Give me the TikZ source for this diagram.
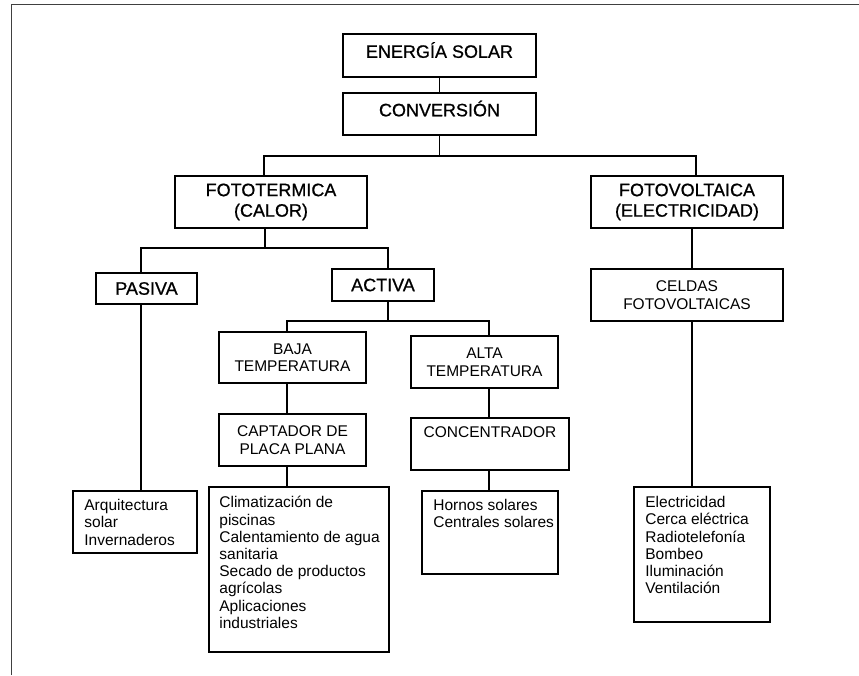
\documentclass[tikz,border=0pt]{standalone}
\usepackage{fontspec}
\setmainfont{Liberation Sans}
\newfontfamily\gruesa[FakeBold=0.8]{Liberation Sans}
\tikzset{
    caja/.style={draw, line width=1.6pt, inner sep=0pt, align=center},
    titulo/.style={caja, font=\gruesa\fontsize{18}{20.5}\selectfont},
    subtitulo/.style={caja, font=\fontsize{15.5}{17.5}\selectfont},
    lista/.style={anchor=north west, inner sep=0pt, align=left, font=\fontsize{15.5}{17.2}\selectfont},
    linea/.style={line width=1.6pt}
}
\begin{document}
\begin{tikzpicture}[x=1pt,y=-1pt]
    \useasboundingbox (0,0) rectangle (859,675);
    \draw[line width=0.8pt, black!75] (11,675) -- (11,4.7) -- (859,4.7);
    % cajas
    \node[titulo, minimum width=193, minimum height=43, text depth=11pt] (energia) at (439.5,55.5) {ENERGÍA SOLAR};
    \node[titulo, minimum width=193, minimum height=42, text depth=11pt] (conversion) at (439.5,114) {CONVERSIÓN};
    \node[titulo, minimum width=192, minimum height=52] (fototermica) at (271,202) {FOTOTERMICA\\(CALOR)};
    \node[titulo, minimum width=192, minimum height=52] (fotovoltaica) at (687,202) {FOTOVOLTAICA\\(ELECTRICIDAD)};
    \node[titulo, minimum width=101, minimum height=31] (pasiva) at (146.5,288.5) {PASIVA};
    \node[titulo, minimum width=102, minimum height=32] (activa) at (383,285) {ACTIVA};
    \node[subtitulo, minimum width=192, minimum height=52] (celdas) at (687,295) {CELDAS\\FOTOVOLTAICAS};
    \node[subtitulo, minimum width=147, minimum height=51] (baja) at (292.5,357.5) {BAJA\\TEMPERATURA};
    \node[subtitulo, minimum width=147, minimum height=52] (alta) at (484.5,362) {ALTA\\TEMPERATURA};
    \node[subtitulo, minimum width=147, minimum height=52] (captador) at (292.5,440) {CAPTADOR DE\\PLACA PLANA};
    \node[subtitulo, minimum width=158, minimum height=52, text depth=23pt] (concentrador) at (490,444) {CONCENTRADOR};
    \node[caja, minimum width=124, minimum height=62] (arquitectura) at (135,522) {};
    \node[caja, minimum width=180, minimum height=165] (climatizacion) at (299,569.5) {};
    \node[caja, minimum width=136, minimum height=83] (hornos) at (490,532.5) {};
    \node[caja, minimum width=136, minimum height=135] (electricidad) at (702,554.5) {};
    % textos de las listas
    \node[lista] (arquitectura-t) at ([shift={(12,9)}]arquitectura.north west) {Arquitectura\\solar\\Invernaderos};
    \node[lista] (climatizacion-t) at ([shift={(11,10)}]climatizacion.north west) {Climatización de\\piscinas\\Calentamiento de agua\\sanitaria\\Secado de productos\\agrícolas\\Aplicaciones\\industriales};
    \node[lista] (hornos-t) at ([shift={(12,9)}]hornos.north west) {Hornos solares\\Centrales solares};
    \node[lista] (electricidad-t) at ([shift={(12,10)}]electricidad.north west) {Electricidad\\Cerca eléctrica\\Radiotelefonía\\Bombeo\\Iluminación\\Ventilación};
    % uniones
    \coordinate (j1) at (439.5,156);
    \coordinate (j2) at (265,248);
    \coordinate (j3) at (388,321);
    \draw[linea] (energia) -- (conversion);
    \draw[linea] (conversion) -- (j1);
    \draw[linea] ([xshift=-7pt]fototermica.north) |- (j1) -| ([xshift=9pt]fotovoltaica.north);
    \draw[linea] ([xshift=-6pt]fototermica.south) -- (j2);
    \draw[linea] ([xshift=-5.5pt]pasiva.north) |- (j2) -| ([xshift=5pt]activa.north);
    \draw[linea] ([xshift=5pt]activa.south) -- (j3);
    \draw[linea] ([xshift=-5.5pt]baja.north) |- (j3) -| ([xshift=4.5pt]alta.north);
    \draw[linea] ([xshift=-5.5pt]pasiva.south) -- ([xshift=-5.5pt]pasiva.south |- arquitectura.north);
    \draw[linea] ([xshift=-5.5pt]baja.south) -- ([xshift=-5.5pt]captador.north);
    \draw[linea] ([xshift=-5.5pt]captador.south) -- ([xshift=-5.5pt]captador.south |- climatizacion.north);
    \draw[linea] ([xshift=4.5pt]alta.south) -- ([xshift=4.5pt]alta.south |- concentrador.north);
    \draw[linea] ([xshift=-1pt]concentrador.south) -- ([xshift=-1pt]concentrador.south |- hornos.north);
    \draw[linea] ([xshift=5pt]fotovoltaica.south) -- ([xshift=5pt]celdas.north);
    \draw[linea] ([xshift=5pt]celdas.south) -- ([xshift=5pt]celdas.south |- electricidad.north);
\end{tikzpicture}
\end{document}
